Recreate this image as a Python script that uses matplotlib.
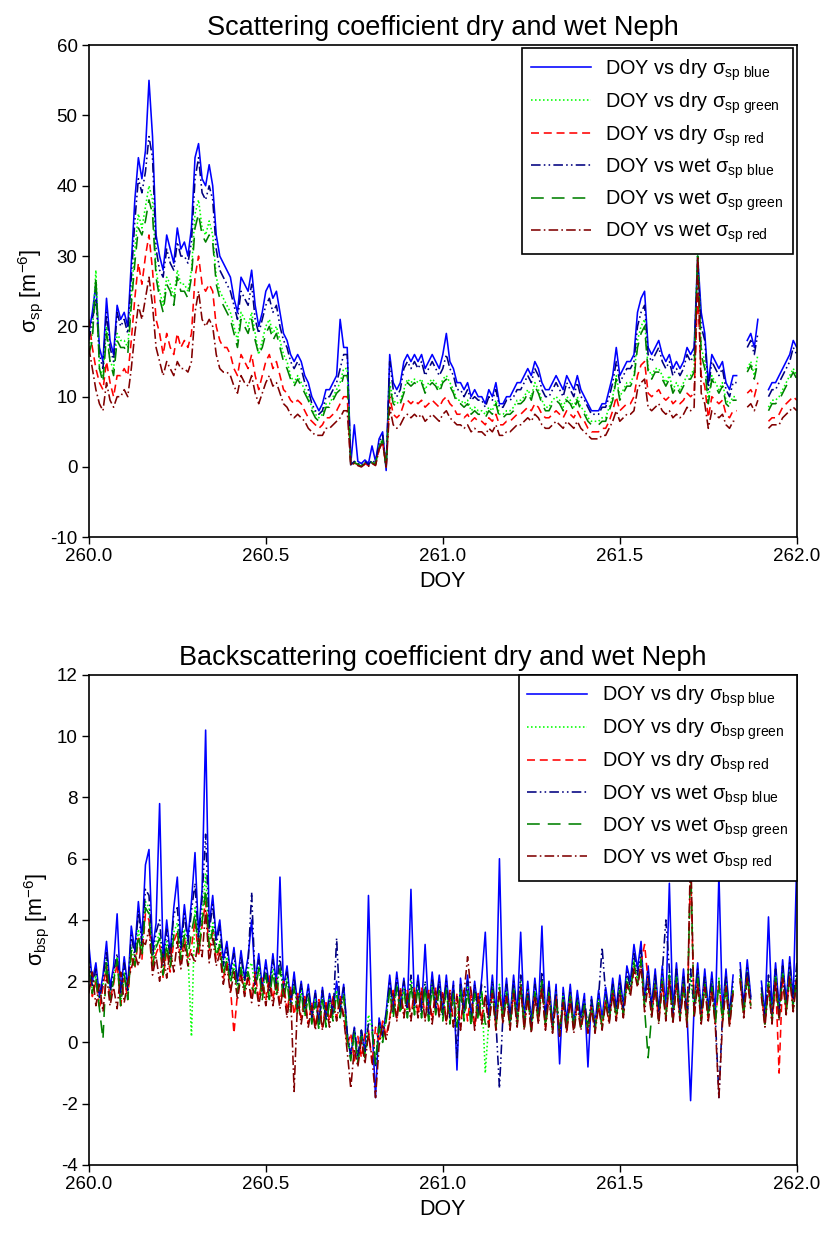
import numpy as np
import matplotlib
matplotlib.use("Agg")
import matplotlib.pyplot as plt

plt.rcParams["font.family"] = ["Liberation Sans", "DejaVu Sans"]
plt.rcParams["mathtext.fontset"] = "custom"
plt.rcParams["mathtext.rm"] = "Liberation Sans"
plt.rcParams["mathtext.it"] = "Liberation Sans:italic"
plt.rcParams["axes.unicode_minus"] = False

# DOY grid, one value every 0.01 day
doy = [260 + i / 100 for i in range(201)]

# ---------- scattering coefficient (top panel) ----------
sp_dry_blue = [
    19, 22, 26, 17, 15, 24, 18, 16, 23, 21,
    22, 20, 29, 38, 44, 41, 45, 55, 47, 33,
    30, 28, 33, 31, 29, 34, 31, 32, 30, 34,
    44, 46, 41, 40, 43, 40, 33, 30, 29, 28,
    27, 24, 22, 27, 26, 25, 28, 23, 20, 22,
    25, 26, 24, 25, 22, 19, 18, 16, 15, 16,
    15, 13, 12, 10, 9, 8, 9, 11, 11, 12,
    13, 21, 17, 17, 0.5, 6, 0.8, 0.5, 1, 0.5,
    3, 0.8, 4, 5, -0.5, 16, 12, 11, 12, 15,
    16, 15, 16, 15, 16, 14, 15, 16, 15, 14,
    16, 19, 15, 14, 12, 12, 11, 12, 10, 11,
    10, 10, 9, 11, 10, 12, 9, 9, 10, 10,
    11, 12, 12, 13, 14, 13, 15, 14, 12, 11,
    11, 12, 13, 12, 11, 13, 12, 11, 13, 11,
    10, 9, 8, 8, 8, 9, 9, 11, 13, 17,
    13, 14, 15, 15, 16, 22, 24, 25, 17, 16,
    17, 18, 16, 15, 16, 14, 15, 14, 15, 17,
    16, 17, 30, 22, 19, 12, 16, 15, 14, 15,
    12, 11, 13, 13, None, None, 18, 19, 17, 21,
    None, None, 11, 12, 12, 13, 14, 15, 16, 18,
    17]

sp_dry_green = [
    17, 19, 28, 14, 13, 20, 15, 14, 19, 18,
    18, 17, 24, 31, 36, 34, 37, 40, 38, 28,
    25, 23, 27, 26, 24, 28, 26, 26, 25, 28,
    36, 38, 34, 33, 35, 33, 27, 25, 24, 23,
    22, 20, 18, 22, 21, 20, 22, 19, 16, 18,
    20, 21, 19, 20, 18, 16, 15, 13, 12, 13,
    12, 11, 10, 8.5, 7.5, 7, 7.5, 9, 9, 10,
    11, 12, 14, 14, 0.3, 0.8, 0.5, 0.2, 0.6, 0.3,
    0.8, 0.5, 3, 4, 0, 12, 9.5, 9, 9.5, 11,
    12.5, 12, 12.5, 12, 12.5, 11, 12, 12.5, 12, 11,
    12.5, 13, 12, 11, 9.5, 9.5, 9, 9.5, 8, 8.5,
    8, 8, 7.5, 8.5, 8, 9.5, 7.5, 7.5, 8, 8,
    8.5, 9.5, 9.5, 10, 11, 10, 12, 11, 9.5, 8.5,
    8.5, 9.5, 10, 9.5, 8.5, 10, 9.5, 8.5, 10, 8.5,
    8, 7, 6.5, 6.5, 6.5, 7, 7, 8.5, 10, 13,
    10, 11, 12, 12, 13, 18, 20, 21, 14, 13,
    14, 14, 13, 12, 13, 11, 12, 11, 12, 13,
    13, 14, 31, 17, 15, 9.5, 13, 12, 11, 12,
    9.5, 9, 10, 10, None, None, 14, 15, 13, 16,
    None, None, 8.5, 9.5, 9.5, 10, 11, 12, 13, 14,
    13]

sp_dry_red = [
    21, 17, 14, 12, 11, 15, 12, 10, 13, 13,
    14, 13, 18, 24, 29, 26, 30, 33, 28, 21,
    19, 16, 19, 17, 16, 19, 17, 18, 17, 19,
    27, 30, 26, 25, 26, 25, 20, 18, 17, 17,
    16, 14, 13, 16, 15, 14, 16, 13, 11, 13,
    15, 16, 14, 15, 13, 11, 10.5, 9.5, 9, 9.5,
    9, 8, 7, 6.5, 6, 5.5, 6, 7, 7, 7.5,
    8, 9, 10, 10, 0.3, 0.6, 0.3, 0, 0.5, 0.2,
    0.6, 0.3, 2.5, 3.5, 0, 10, 7.5, 7, 7.5, 9,
    9.5, 9, 9.5, 9, 9.5, 8.5, 9, 9.5, 9, 8.5,
    9.5, 10, 9, 8.5, 7.5, 7.5, 7, 7.5, 6.5, 7,
    6.5, 6.5, 6, 7, 6.5, 7.5, 6, 6, 6.5, 6.5,
    7, 7.5, 7.5, 8, 8.5, 8, 9, 8.5, 7.5, 7,
    7, 7.5, 8, 7.5, 7, 8, 7.5, 7, 8, 7,
    6.5, 5.5, 5, 5, 5, 5.5, 5.5, 6.5, 8, 10,
    8, 8.5, 9, 9, 10, 13, 14.5, 15, 10.5, 10,
    10.5, 11, 10, 9.5, 10, 9, 9.5, 9, 9.5, 10.5,
    10, 10.5, 25, 13, 11.5, 7, 10, 9.5, 9, 9.5,
    7.5, 7, 8, 8, None, None, 10.5, 11, 10, 12,
    None, None, 6.5, 7, 7, 7.5, 8.5, 9, 9.5, 10,
    9.5]

sp_wet_blue = [
    18, 21, 24, 16, 14, 22, 17, 15, 22, 20,
    21, 19, 27, 35, 41, 39, 42, 47, 44, 31,
    28, 27, 31, 29, 28, 32, 30, 30, 29, 32,
    41, 44, 39, 38, 40, 38, 31, 28, 27, 26,
    25, 23, 21, 25, 24, 23, 26, 21, 19, 21,
    23, 24, 22, 23, 20, 18, 17, 15, 14, 15,
    14, 12, 11, 9, 8, 7.5, 8, 10, 10, 11,
    12, 14, 16, 16, 0.3, 0.8, 0.5, 0.2, 0.8, 0.3,
    1, 0.5, 3.5, 4.5, 0, 15, 11, 10, 11, 14,
    15, 14, 15, 14, 15, 13, 14, 15, 14, 13,
    14, 16, 14, 13, 11, 11, 10, 11, 9.5, 10,
    9.5, 9.5, 8.5, 10, 9.5, 11, 8.5, 8.5, 9.5, 9.5,
    10, 11, 11, 12, 13, 12, 14, 13, 11, 10,
    10, 11, 12, 11, 10, 12, 11, 10, 12, 10,
    9.5, 8.5, 7.5, 7.5, 7.5, 8.5, 8.5, 10, 12, 15,
    12, 13, 14, 14, 15, 20, 22, 23, 16, 15,
    16, 17, 15, 14, 15, 13, 14, 13, 14, 16,
    15, 16, 29, 20, 18, 11, 15, 14, 13, 14,
    11, 10, 12, 12, None, None, 17, 18, 16, 19,
    None, None, 10, 11, 11, 12, 13, 14, 15, 17,
    16]

sp_wet_green = [
    16, 18, 27, 14, 12, 19, 15, 13, 18, 17,
    17, 16, 23, 29, 34, 33, 35, 38, 36, 27,
    24, 22, 26, 25, 23, 27, 25, 25, 24, 27,
    34, 36, 33, 32, 33, 32, 26, 24, 23, 22,
    21, 19, 17, 21, 20, 19, 21, 18, 16, 17,
    19, 20, 18, 19, 17, 15, 14, 12.5, 11.5, 12.5,
    11.5, 10.5, 9.5, 8, 7, 6.5, 7, 8.5, 8.5, 9.5,
    10.5, 11, 13, 13, 0.2, 0.6, 0.4, 0.1, 0.5, 0.2,
    0.6, 0.4, 2.8, 3.8, 0, 11.5, 9, 8.5, 9, 10.5,
    12, 11.5, 12, 11.5, 12, 10.5, 11.5, 12, 11.5, 10.5,
    12, 12.5, 11.5, 10.5, 9, 9, 8.5, 9, 7.5, 8,
    7.5, 7.5, 7, 8, 7.5, 9, 7, 7, 7.5, 7.5,
    8, 9, 9, 9.5, 10.5, 9.5, 11.5, 10.5, 9, 8,
    8, 9, 9.5, 9, 8, 9.5, 9, 8, 9.5, 8,
    7.5, 6.5, 6, 6, 6, 6.5, 6.5, 8, 9.5, 12.5,
    9.5, 10.5, 11.5, 11.5, 12.5, 17, 19, 20, 13.5, 12.5,
    13.5, 13.5, 12.5, 11.5, 12.5, 10.5, 11.5, 10.5, 11.5, 12.5,
    12.5, 13.5, 30, 16, 14, 9, 12.5, 11.5, 10.5, 11.5,
    9, 8.5, 9.5, 9.5, None, None, 13.5, 14.5, 12.5, 15,
    None, None, 8, 9, 9, 9.5, 10.5, 11.5, 12.5, 13.5,
    12.5]

sp_wet_red = [
    17, 14, 11, 9, 8, 12, 9.5, 8.5, 10, 10,
    11, 10, 14, 19, 23, 21, 24, 27, 23, 17,
    15, 13, 15, 14, 13, 15, 14, 14, 13.5, 15,
    22, 25, 21, 20, 21, 20, 16, 14, 13.5, 13.5,
    13, 11.5, 10.5, 13, 12, 11.5, 13, 10.5, 9, 10.5,
    12, 13, 11.5, 12, 10.5, 9, 8.5, 7.5, 7, 7.5,
    7, 6.5, 5.5, 5, 4.5, 4.5, 4.5, 5.5, 5.5, 6,
    6.5, 7, 8, 8, 0.2, 0.5, 0.2, 0, 0.4, 0.1,
    0.5, 0.2, 2.5, 3.5, 0, 8.5, 6, 5.5, 6, 7,
    7.5, 7, 7.5, 7, 7.5, 6.5, 7, 7.5, 7, 6.5,
    7.5, 8, 7, 6.5, 6, 6, 5.5, 6, 5, 5.5,
    5, 5, 4.5, 5.5, 5, 6, 4.5, 4.5, 5, 5,
    5.5, 6, 6, 6.5, 7, 6.5, 7.5, 7, 6, 5.5,
    5.5, 6, 6.5, 6, 5.5, 6.5, 6, 5.5, 6.5, 5.5,
    5, 4.5, 4, 4, 4, 4.5, 4.5, 5.5, 6.5, 8,
    6.5, 7, 7.5, 7.5, 8, 11, 12, 12.5, 8.5, 8,
    8.5, 9, 8, 7.5, 8, 7, 7.5, 7, 7.5, 8.5,
    8, 8.5, 30, 10.5, 9, 5.5, 8, 7.5, 7, 7.5,
    6, 5.5, 6.5, 6.5, None, None, 8.5, 9, 8, 9.5,
    None, None, 5.5, 6, 6, 6, 7, 7.5, 8, 8.5,
    8]

# ---------- backscattering coefficient (bottom panel) ----------
bsp_dry_blue = [
    3.2, 2.0, 2.6, 1.5, 2.2, 3.3, 1.8, 2.5, 4.2, 1.6,
    2.8, 1.8, 3.8, 3.0, 4.6, 3.4, 5.8, 6.3, 3.0, 3.9,
    7.8, 2.7, 4.0, 2.9, 4.4, 5.4, 3.2, 4.5, 3.4, 4.6,
    6.2, 3.5, 5.0, 10.2, 3.8, 4.8, 3.4, 4.0, 2.7, 3.3,
    2.3, 3.1, 2.0, 3.0, 2.1, 2.8, 4.0, 2.0, 2.9, 1.8,
    2.7, 1.8, 2.9, 1.9, 5.4, 1.8, 2.5, 1.3, 2.3, 1.2,
    2.0, 1.1, 1.9, 0.9, 1.7, 0.6, 1.8, 0.8, 1.6, 1.0,
    2.0, 1.1, 1.9, 0.3, -0.5, 0.5, -0.6, 0.4, -0.4, 4.8,
    0.6, -1.8, 0.8, 0.2, 1.0, 2.2, 1.1, 2.3, 1.2, 2.1,
    1.1, 5.0, 1.2, 2.2, 1.1, 3.2, 1.0, 2.3, 1.2, 2.2,
    1.0, 2.2, 0.9, 2.0, -0.9, 2.1, 1.0, 2.2, 0.8, 2.0,
    1.0, 2.1, 3.6, 0.9, 2.2, 0.8, 6.0, 1.0, 2.1, 0.8,
    2.2, 0.9, 3.6, 0.8, 2.0, 0.7, 2.1, 1.0, 3.8, 0.8,
    2.0, 0.6, 1.9, -0.7, 1.8, 0.7, 1.9, 0.6, 1.7, 0.8,
    1.6, -0.8, 1.5, 0.6, 1.7, 0.8, 1.8, 1.0, 2.1, 1.1,
    2.2, 1.2, 2.5, 2.0, 3.2, 2.4, 3.3, 1.4, 2.5, 1.2,
    2.4, 1.0, 2.5, 1.1, 5.2, 1.0, 2.6, 1.1, 2.4, 0.9,
    -1.9, 1.2, 2.6, 1.0, 2.4, 1.1, 2.3, 0.9, 5.5, 1.0,
    2.4, 0.9, 2.2, None, 2.6, 1.2, 2.7, 1.5, None, None,
    2.0, 0.9, 4.1, 1.0, 2.6, 1.1, 2.7, 1.3, 2.8, 1.4,
    6.0]

bsp_dry_green = [
    2.6, 1.7, 2.2, 1.2, 1.9, 2.7, 1.5, 2.1, 2.8, 1.3,
    2.3, 1.5, 3.1, 2.6, 3.7, 2.9, 4.6, 4.4, 2.6, 3.2,
    3.6, 2.3, 3.3, 2.5, 3.6, 3.9, 2.8, 3.7, 2.9, 0.2,
    4.4, 3.0, 4.1, 5.5, 3.2, 3.9, 2.9, 3.3, 2.3, 2.8,
    2.0, 2.6, 1.7, 2.5, 1.8, 2.4, 2.6, 1.7, 2.5, 1.5,
    2.3, 1.5, 2.4, 1.6, 2.6, 1.5, 2.1, 1.1, 1.9, 1.0,
    1.7, 0.9, 1.6, 0.7, 1.4, 0.5, 1.5, 0.6, 1.4, 0.8,
    1.7, 0.9, 1.6, 0.2, -0.5, 0.4, -0.6, 0.3, -0.4, 0.9,
    0.5, -0.6, 0.6, 0.1, 0.8, 1.8, 0.9, 1.9, 1.0, 1.8,
    0.9, 2.0, 1.0, 1.9, 0.9, 1.9, 0.8, 1.9, 1.0, 1.8,
    0.8, 1.8, 0.7, 1.7, 0.6, 1.8, 0.8, 1.8, 0.6, 1.7,
    0.8, 1.7, -1.0, 0.7, 1.8, 0.6, 1.9, 0.8, 1.7, 0.6,
    1.8, 0.7, 2.0, 0.6, 1.7, 0.5, 1.7, 0.8, 2.1, 0.6,
    1.7, 0.5, 1.6, 0.4, 1.5, 0.5, 1.6, 0.5, 1.4, 0.6,
    1.3, 0.5, 1.3, 0.5, 1.4, 0.6, 1.5, 0.8, 1.8, 0.9,
    1.8, 1.0, 2.1, 1.7, 2.7, 2.0, 2.8, 1.2, 2.1, 1.0,
    2.0, 0.8, 2.1, 0.9, 2.3, 0.8, 2.2, 0.9, 2.0, 0.7,
    2.2, 1.0, 2.2, 0.8, 2.0, 0.9, 1.9, 0.7, 2.1, 0.8,
    2.0, 0.7, 1.8, None, 2.2, 1.0, 2.3, 1.3, None, None,
    1.7, 0.7, 2.0, 0.8, 2.2, 0.9, 2.3, 1.1, 2.3, 1.2,
    2.3]

bsp_dry_red = [
    2.5, 1.5, 2.0, 1.1, 1.8, 2.5, 1.4, 1.9, 2.6, 1.2,
    2.1, 1.4, 2.9, 2.4, 3.4, 2.7, 4.2, 4.0, 2.4, 2.9,
    3.2, 2.1, 3.0, 2.3, 3.3, 3.6, 2.6, 3.4, 2.7, 3.1,
    4.0, 2.8, 3.8, 4.6, 3.0, 3.6, 2.7, 3.1, 2.1, 2.6,
    1.8, 0.3, 1.6, 2.3, 1.6, 2.2, 1.5, 2.3, 1.4, 2.1,
    1.4, 2.2, 1.4, 2.1, 1.3, 2.0, 1.0, 1.8, 0.9, 1.6,
    0.8, 1.5, 0.6, 1.3, 0.5, 1.4, 0.5, 1.3, 0.7, 1.5,
    0.8, 1.5, 0.9, -0.1, 0.3, -0.6, 0.2, -0.5, 0.3, 0.4,
    -0.7, 0.5, 0.0, 0.7, 0.2, 0.8, 1.7, 0.8, 1.8, 0.9,
    1.7, 0.8, 1.8, 0.9, 1.8, 0.8, 1.7, 0.7, 1.8, 0.9,
    1.7, 0.7, 1.7, 0.6, 1.6, 0.5, 1.7, 0.7, 1.7, 0.5,
    1.6, 0.7, 1.6, 0.6, 1.7, 0.5, 1.8, 0.7, 1.6, 0.5,
    1.7, 0.6, 1.9, 0.5, 1.6, 0.4, 1.6, 0.7, 1.9, 0.5,
    1.6, 0.4, 1.5, 0.3, 1.4, 0.4, 1.5, 0.4, 1.3, 0.5,
    1.2, 0.4, 1.2, 0.4, 1.3, 0.5, 1.4, 0.7, 1.7, 0.8,
    1.7, 0.9, 2.0, 1.6, 2.5, 1.9, 2.6, 3.2, 2.0, 0.9,
    1.9, 0.7, 2.0, 0.8, 2.1, 0.7, 2.0, 0.8, 1.9, 0.6,
    5.8, 0.9, 2.0, 0.7, 1.9, 0.8, 1.8, 0.6, 2.0, 0.7,
    1.9, 0.6, 1.7, None, 2.1, 0.9, 2.2, 1.2, None, None,
    1.6, 0.6, 1.9, 0.7, 2.1, -1.0, 2.2, 1.0, 2.2, 1.1,
    2.2]

bsp_wet_blue = [
    2.9, 1.8, 2.4, 1.4, 2.0, 3.0, 1.6, 2.3, 2.9, 1.5,
    2.6, 1.7, 3.5, 2.8, 4.3, 3.2, 5.0, 4.8, 2.8, 3.6,
    4.0, 2.5, 3.7, 2.7, 4.2, 4.4, 3.0, 4.2, 3.2, 4.3,
    5.2, 3.3, 4.7, 6.8, 3.6, 4.5, 3.2, 3.8, 2.5, 3.1,
    2.2, 2.9, 1.9, 2.8, 2.0, 2.6, 4.9, 1.9, 2.7, 1.7,
    2.5, 1.7, 2.7, 1.8, 2.8, 1.7, 2.3, 1.2, 2.1, 1.1,
    1.9, 1.0, 1.8, 0.8, 1.6, 0.6, 1.7, 0.7, 1.5, 0.9,
    3.4, 1.0, 1.8, 0.3, -0.4, 0.5, -0.5, 0.4, -0.3, 0.6,
    0.6, -0.8, 0.7, 0.2, 0.9, 2.0, 1.0, 2.1, 1.1, 2.0,
    1.0, 2.2, 1.1, 2.0, 1.0, 2.0, 0.9, 2.1, 1.1, 2.0,
    0.9, 2.0, 0.8, 1.9, -0.5, 1.9, 0.9, 2.0, 0.7, 1.9,
    0.9, 1.9, 1.8, 0.8, 2.0, 0.7, -1.5, 0.9, 1.9, 0.7,
    2.0, 0.8, 2.2, 0.7, 1.8, 0.6, 1.9, 0.9, 2.3, 0.7,
    1.8, 0.5, 1.7, 0.2, 1.6, 0.6, 1.7, 0.5, 1.5, 0.7,
    1.4, 0.5, 1.4, 0.5, 1.5, 3.1, 1.6, 0.9, 1.9, 1.0,
    2.0, 1.1, 2.3, 1.8, 2.9, 2.2, 3.0, 1.3, 2.3, 1.1,
    2.2, 0.9, 2.3, 4.0, 2.4, 0.9, 2.4, 1.0, 2.2, 0.8,
    2.4, 1.1, 2.4, 0.9, 2.2, 1.0, 2.1, 0.8, -1.8, 0.9,
    2.2, 0.8, 2.0, None, 2.4, 1.1, 2.5, 1.4, None, None,
    1.8, 0.8, 2.2, 0.9, 2.4, 1.0, 2.5, 1.2, 2.6, 1.3,
    2.6]

bsp_wet_green = [
    2.4, 1.6, 2.1, 1.1, 0.1, 2.6, 1.4, 2.0, 2.7, 1.2,
    2.2, 1.4, 3.0, 2.5, 3.5, 2.8, 4.4, 4.2, 2.5, 3.1,
    3.4, 2.2, 3.2, 2.4, 3.5, 3.7, 2.7, 3.5, 2.8, 3.6,
    4.2, 2.9, 3.9, 5.0, 3.1, 3.7, 2.8, 3.2, 2.2, 2.7,
    1.9, 2.5, 1.6, 2.4, 1.7, 2.3, 1.8, 1.6, 2.4, 1.4,
    2.2, 1.4, 2.3, 1.5, 2.4, 1.4, 2.0, 1.0, 1.8, 0.9,
    1.6, 0.8, 1.5, 0.6, 1.3, 0.4, 1.4, 0.5, 1.3, 0.7,
    1.6, 0.8, 1.5, 0.1, -0.6, 0.3, -0.7, 0.2, -0.5, 0.3,
    0.4, -0.7, 0.5, 0.0, 0.7, 1.7, 0.8, 1.8, 0.9, 1.7,
    0.8, 1.9, 0.9, 1.8, 0.8, 1.8, 0.7, 1.8, 0.9, 1.7,
    0.7, 1.7, 0.6, 1.6, 0.5, 1.7, 0.7, 1.7, 0.5, 1.6,
    0.7, 1.6, 0.6, 0.6, 1.7, 0.5, 1.8, 0.7, 1.6, 0.5,
    1.7, 0.6, 1.9, 0.5, 1.6, 0.4, 1.6, 0.7, 2.0, 0.5,
    1.6, 0.4, 1.5, 0.3, 1.4, 0.4, 1.5, 0.4, 1.3, 0.5,
    1.2, 0.4, 1.2, 0.4, 1.3, 0.5, 1.4, 0.7, 1.7, 0.8,
    1.7, 0.9, 2.0, 1.6, 2.6, 1.9, 2.7, 1.1, -0.5, 0.9,
    1.9, 0.7, 2.0, 0.8, 2.2, 0.7, 2.1, 0.8, 1.9, 0.6,
    6.0, 0.9, 2.1, 0.7, 1.9, 0.8, 1.8, 0.6, 2.0, 0.7,
    1.9, 0.6, 1.7, None, 2.1, 0.9, 2.2, 1.2, None, None,
    1.6, 0.6, 1.9, 0.7, 2.1, 0.8, 2.2, 1.0, 2.2, 1.1,
    2.2]

bsp_wet_red = [
    1.6, 2.3, 1.2, 1.9, 1.0, 2.2, 1.2, 1.8, 1.1, 2.3,
    1.3, 2.0, 2.4, 2.9, 2.5, 3.3, 3.2, 3.7, 2.2, 2.8,
    2.0, 2.9, 2.1, 3.1, 2.3, 3.3, 2.4, 3.2, 2.5, 2.9,
    2.6, 3.4, 2.8, 4.3, 2.6, 3.4, 2.5, 2.9, 1.9, 2.5,
    1.6, 2.3, 1.4, 2.2, 1.5, 2.1, 1.3, 2.1, 1.2, 1.9,
    1.2, 2.0, 1.2, 1.9, 1.1, 1.8, 0.8, 1.7, -1.6, 1.5,
    0.6, 1.4, 0.5, 1.2, 0.4, 1.3, 0.4, 1.2, 0.5, 1.4,
    0.7, 1.4, 0.8, -0.3, -1.5, -0.2, -0.8, 0.1, -0.7, 0.3,
    -0.5, -1.8, -0.1, 0.6, 0.1, 0.7, 1.6, 0.7, 1.7, 0.8,
    1.6, 0.7, 1.7, 0.8, 1.7, 0.7, 1.6, 0.6, 1.7, 0.8,
    1.6, 0.6, 1.6, 0.5, 1.5, 0.4, 1.6, 2.8, 1.6, 0.4,
    1.5, 0.6, 1.5, 0.5, 1.6, 0.4, 1.7, 0.6, 1.5, 0.4,
    1.6, 0.5, 1.8, 0.4, 1.5, 0.3, 1.5, 0.6, 1.8, 0.4,
    1.5, 0.3, 1.4, 0.2, 1.3, 0.3, 1.4, 0.3, 1.2, 0.4,
    1.1, 0.3, 1.1, 0.3, 1.2, 0.4, 1.3, 0.6, 1.6, 0.7,
    1.6, 0.8, 1.9, 1.5, 2.4, 1.8, 2.5, 1.0, 1.9, 0.8,
    1.8, 0.6, 1.9, 0.7, 2.0, 0.6, 1.9, 0.7, 1.8, 0.5,
    6.5, 0.8, 1.9, 0.6, 1.8, 0.7, 1.7, 0.5, -1.8, 0.6,
    1.8, 0.5, 1.6, None, 2.0, 0.8, 2.1, 1.1, None, None,
    1.5, 0.5, 1.8, 0.6, 2.0, 0.7, 2.1, 0.9, 2.1, 1.0,
    2.1]

# one style per series: (state, band, colour, dash pattern)
styles = [
    ("dry", "blue", "#0000ff", "-"),
    ("dry", "green", "#00ff00", (0, (1, 1.5))),
    ("dry", "red", "#ff0000", (0, (5, 3))),
    ("wet", "blue", "#000080", (0, (6, 2, 1, 2, 1, 2))),
    ("wet", "green", "#008000", (0, (8, 5))),
    ("wet", "red", "#800000", (0, (6, 2, 1, 2))),
]


def draw_panel(ax, series, sub, title, ylim, yticks, anchor):
    x = np.array(doy)
    for (state, col, color, ls), y in zip(styles, series):
        ax.plot(x, np.array(y, dtype=float), color=color, linestyle=ls, lw=1.15,
                label=r"DOY vs %s σ$_{\mathrm{%s\ %s}}$" % (state, sub, col))
    ax.set_xlim(260, 262)
    ax.set_ylim(*ylim)
    ax.set_xticks([260.0, 260.5, 261.0, 261.5, 262.0])
    ax.set_xticklabels(["260.0", "260.5", "261.0", "261.5", "262.0"])
    ax.set_yticks(yticks)
    ax.tick_params(direction="out", length=5, width=1, labelsize=13.5,
                   top=False, right=False, pad=3)
    for s in ax.spines.values():
        s.set_linewidth(1.2)
    ax.set_title(title, fontsize=19.5, pad=7)
    ax.set_xlabel("DOY", fontsize=15.5, labelpad=4)
    ax.set_ylabel(r"σ$_{\mathrm{%s}}$ [m$^{\mathrm{-6}}$]" % sub, fontsize=15.5,
                  labelpad=4)
    leg = ax.legend(loc="upper right", bbox_to_anchor=anchor,
                    borderaxespad=0, fancybox=False, framealpha=1,
                    edgecolor="black", fontsize=14.3, handlelength=3.0,
                    labelspacing=0.38, borderpad=0.45, handletextpad=0.75)
    leg.get_frame().set_linewidth(1.2)


fig = plt.figure(figsize=(8.3, 12.38), dpi=100)
ax1 = fig.add_axes([0.107, 0.566, 0.853, 0.3975])
ax2 = fig.add_axes([0.107, 0.059, 0.853, 0.3958])

draw_panel(ax1, [sp_dry_blue, sp_dry_green, sp_dry_red,
                 sp_wet_blue, sp_wet_green, sp_wet_red],
           "sp", "Scattering coefficient dry and wet Neph",
           (-10, 60), list(range(-10, 61, 10)), (0.994, 0.994))
draw_panel(ax2, [bsp_dry_blue, bsp_dry_green, bsp_dry_red,
                 bsp_wet_blue, bsp_wet_green, bsp_wet_red],
           "bsp", "Backscattering coefficient dry and wet Neph",
           (-4, 12), list(range(-4, 13, 2)), (1.0, 1.0))

fig.savefig("out.png", dpi=100)
